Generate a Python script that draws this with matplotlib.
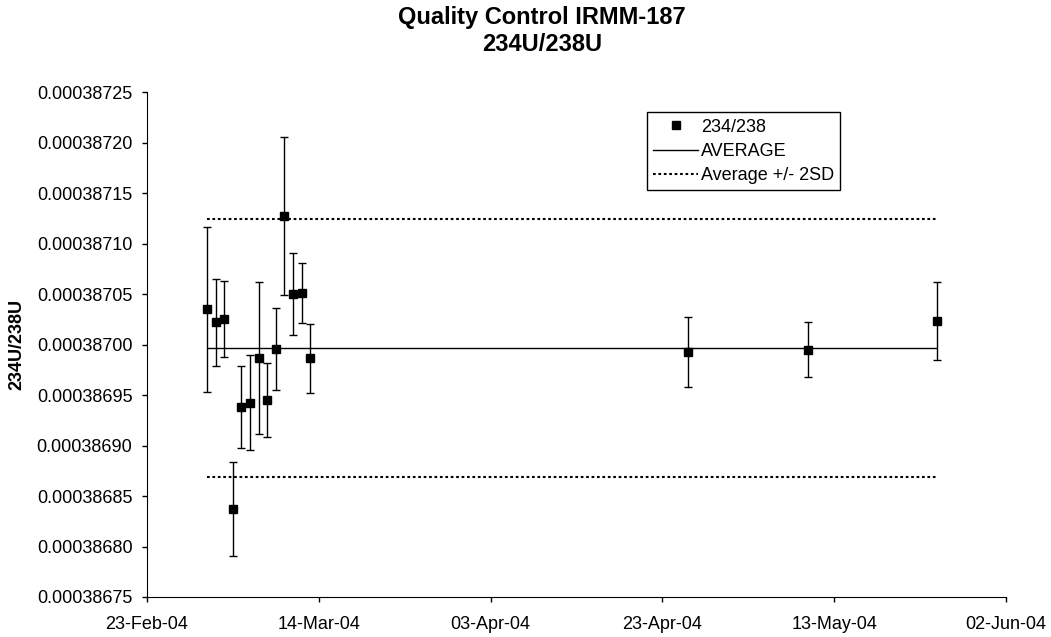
import numpy as np
import matplotlib
matplotlib.use("Agg")
import matplotlib.pyplot as plt
import matplotlib.dates as mdates
from matplotlib.ticker import MultipleLocator, FormatStrFormatter
from matplotlib.lines import Line2D

plt.rcParams['font.family'] = ['Liberation Sans', 'DejaVu Sans']

# measurement dates and 234U/238U ratios with error bars
dates = np.array(['2004-03-01', '2004-03-02', '2004-03-03', '2004-03-04',
                  '2004-03-05', '2004-03-06', '2004-03-07', '2004-03-08',
                  '2004-03-09', '2004-03-10', '2004-03-11', '2004-03-12',
                  '2004-03-13', '2004-04-26', '2004-05-10', '2004-05-25'],
                 dtype='datetime64[D]')
ratio = np.array([0.0003870350, 0.0003870221, 0.0003870254, 0.0003868373,
                  0.0003869381, 0.0003869425, 0.0003869871, 0.0003869454,
                  0.0003869956, 0.0003871276, 0.0003870502, 0.0003870516,
                  0.0003869864, 0.0003869927, 0.0003869950, 0.0003870234])
err = np.array([8.20e-8, 4.28e-8, 3.80e-8, 4.65e-8, 4.05e-8, 4.70e-8, 7.52e-8,
                3.67e-8, 4.05e-8, 7.80e-8, 4.05e-8, 2.96e-8, 3.42e-8,
                3.46e-8, 2.74e-8, 3.90e-8])
average = 0.0003869970
two_sd = 1.277e-7
xticks = np.array(['2004-02-23', '2004-03-14', '2004-04-03', '2004-04-23',
                   '2004-05-13', '2004-06-02'], dtype='datetime64[D]')

fig = plt.figure(figsize=(10.51, 6.37), dpi=100)
ax = fig.add_axes([147/1051, 1-597/637, (1006-147)/1051, (597-92.5)/637])

x = dates.astype(object)
dotted = (0, (1.3, 1.3))
ax.errorbar(x, ratio, yerr=err, fmt='s', color='black', ms=6, capsize=3,
            elinewidth=1, capthick=1, zorder=3)
ax.hlines(average, x[0], x[-1], colors='black', lw=1)
ax.hlines([average + two_sd, average - two_sd], x[0], x[-1], colors='black',
          lw=1.5, linestyles=dotted)

ax.set_ylim(0.00038675, 0.00038725)
ax.yaxis.set_major_locator(MultipleLocator(0.00000005))
ax.yaxis.set_major_formatter(FormatStrFormatter('%.8f'))
ax.set_xlim(xticks[0].astype(object), xticks[-1].astype(object))
ax.set_xticks(xticks.astype(object))
ax.xaxis.set_major_formatter(mdates.DateFormatter('%d-%b-%y'))

for s in ['top', 'right']:
    ax.spines[s].set_visible(False)
ax.tick_params(labelsize=13, length=3.5, width=1)
ax.tick_params(axis='y', pad=7)
ax.tick_params(axis='x', pad=10.5)
ax.set_ylabel('234U/238U', fontsize=13, fontweight='bold')
ax.yaxis.set_label_coords(-0.142, 0.5)

fig.suptitle('Quality Control IRMM-187\n234U/238U', fontsize=17,
             fontweight='bold', x=542/1051, y=0.99, linespacing=1.22)

handles = [Line2D([], [], ls='none', marker='s', color='black', ms=6),
           Line2D([], [], color='black', lw=1),
           Line2D([], [], color='black', lw=1.5, ls=dotted)]
labels = ['234/238', 'AVERAGE', 'Average +/- 2SD']
leg = ax.legend(handles, labels, loc='upper left',
                bbox_to_anchor=(646.7/1051, 1-112.3/637),
                bbox_transform=fig.transFigure, borderaxespad=0, fontsize=13,
                fancybox=False, framealpha=1, edgecolor='black',
                handlelength=2.5, handletextpad=0.15, borderpad=0.35,
                labelspacing=0.4)
leg.get_frame().set_linewidth(1)

fig.savefig('out.png', dpi=100)
